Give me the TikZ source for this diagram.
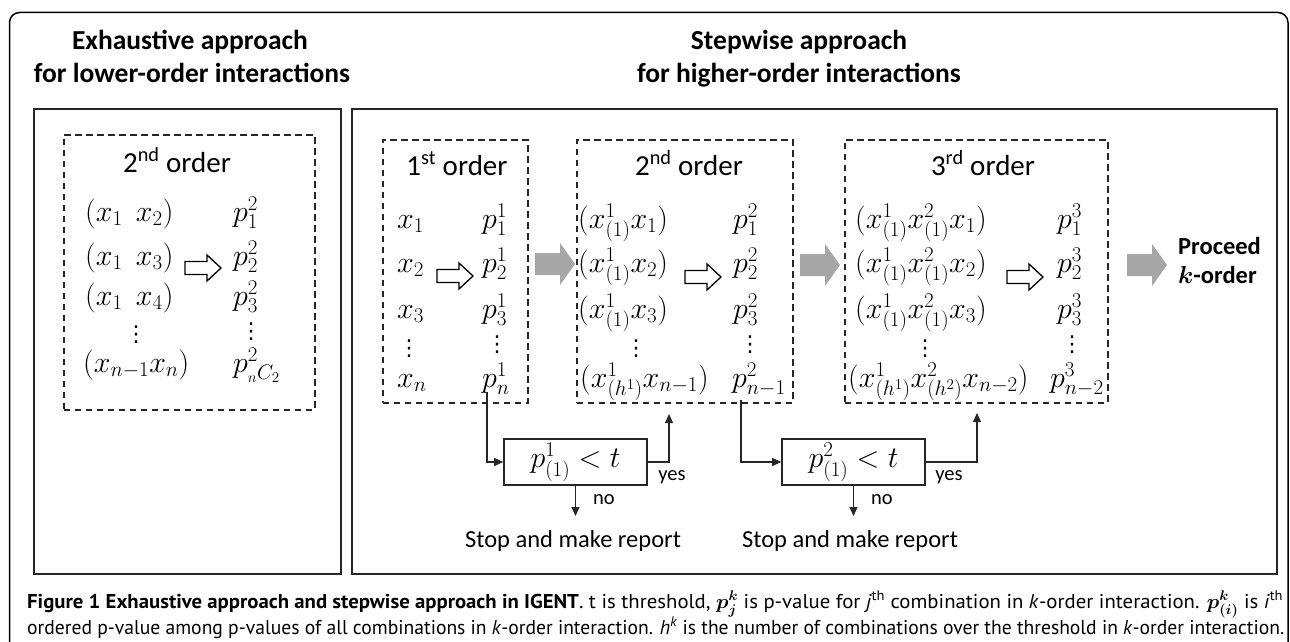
\RequirePackage{fix-cm}
\documentclass[tikz,border=0pt]{standalone}
\usepackage{amsmath}
\usepackage[no-math]{fontspec}
\setmainfont{Carlito}
\newfontfamily\capfont{PT Sans}
\newfontfamily\dejavu{DejaVu Sans}
\usetikzlibrary{arrows.meta}
\newcommand{\vdt}{{\dejavu ⋮}}
\tikzset{
  bigbox/.style={draw=black!85, line width=2pt, inner sep=0pt, anchor=north west},
  dbox/.style={draw=black!85, line width=1.6pt, dash pattern=on 6.5pt off 4.5pt, inner sep=0pt, anchor=north west},
  title/.style={font=\fontsize{27.5}{32}\selectfont\bfseries, inner sep=0pt, anchor=base},
  ordt/.style={font=\fontsize{29}{33}\selectfont, inner sep=0pt, anchor=base},
  mrow/.style={font=\fontsize{30}{34}\selectfont, inner sep=0pt, anchor=base west},
  mdots/.style={font=\fontsize{22}{26}\selectfont, inner sep=0pt, anchor=base},
  decbox/.style={draw=black!85, line width=1.6pt, minimum width=143pt, minimum height=46pt, inner sep=0pt, font=\fontsize{30}{34}\selectfont},
  small/.style={font=\fontsize{20.5}{24}\selectfont, inner sep=0pt},
  stoptxt/.style={font=\fontsize{24.5}{28}\selectfont, inner sep=0pt, anchor=base},
  conn/.style={draw=black!85, line width=1.1pt, -{Triangle[length=9pt,width=8pt]}},
  harrow/.pic={\draw[line width=1.3pt, fill=white, line join=miter] (-18,-6.5) -- (4,-6.5) -- (4,-13) -- (18,0) -- (4,13) -- (4,6.5) -- (-18,6.5) -- cycle;},
  garrow/.pic={\fill[black!35] (-20,-11) -- (5,-11) -- (5,-21) -- (20,0) -- (5,21) -- (5,11) -- (-20,11) -- cycle;},
  captxt/.style={font=\capfont\fontsize{20}{24}\selectfont, inner sep=0pt, anchor=base west}
}
\begin{document}
\begin{tikzpicture}[x=1pt,y=-1pt]
\useasboundingbox (0,0) rectangle (1290,642);
\clip (0,0) rectangle (1290,642);
% outer frame
\draw[line width=1.5pt, rounded corners=10pt] (9.5,660) -- (9.5,12.5) -- (1288,12.5) -- (1288,660);

% titles
\node[title] (t1a) at (190,50) {Exhaustive approach};
\node[title] (t1b) at (192,82) {for lower-order interactions};
\node[title] (t2a) at (799,50) {Stepwise approach};
\node[title] (t2b) at (799,82) {for higher-order interactions};

% solid boxes
\node[bigbox, minimum width=307pt, minimum height=465pt] (lbox) at (33,108) {};
\node[bigbox, minimum width=925pt, minimum height=465pt] (rbox) at (351,108) {};

% left dashed box
\node[dbox, minimum width=251pt, minimum height=275pt] (d0) at (63,134) {};
\node[ordt] (o0) at (177,172) {2\textsuperscript{nd} order};
\node[mrow] (l1) at (85,221) {$(x_1\;\, x_2)$};
\node[mrow] (l2) at (85,265) {$(x_1\;\, x_3)$};
\node[mrow] (l3) at (85,305) {$(x_1\;\, x_4)$};
\node[mdots] (ld) at (136,341) {\vdt};
\node[mrow] (l4) at (83,372) {$(x_{n-1}x_n)$};
\node[mrow] (lp1) at (233,221) {$p^2_1$};
\node[mrow] (lp2) at (233,265) {$p^2_2$};
\node[mrow] (lp3) at (233,305) {$p^2_3$};
\node[mdots] (lpd) at (251,338) {\vdt};
\node[mrow] (lp4) at (233,372) {$p^2_{{}_{n}C_{2}}$};
\pic at (203,268) {harrow};

% 1st order box
\node[dbox, minimum width=145pt, minimum height=263pt] (d1) at (382,139) {};
\node[ordt] (o1) at (457,175) {1\textsuperscript{st} order};
\node[mrow] (a1) at (397,228) {$x_1$};
\node[mrow] (a2) at (397,272) {$x_2$};
\node[mrow] (a3) at (397,318) {$x_3$};
\node[mdots] (ad) at (409,355) {\vdt};
\node[mrow] (a4) at (397,387) {$x_n$};
\node[mrow] (ap1) at (482,228) {$p^1_1$};
\node[mrow] (ap2) at (482,272) {$p^1_2$};
\node[mrow] (ap3) at (482,318) {$p^1_3$};
\node[mdots] (apd) at (497,351) {\vdt};
\node[mrow] (ap4) at (482,387) {$p^1_n$};
\pic at (455,276) {harrow};

% 2nd order box
\node[dbox, minimum width=216pt, minimum height=263pt] (d2) at (576,139) {};
\node[ordt] (o2) at (689,175) {2\textsuperscript{nd} order};
\node[mrow] (b1) at (578,228) {$(x^1_{(1)}x_1)$};
\node[mrow] (b2) at (578,272) {$(x^1_{(1)}x_2)$};
\node[mrow] (b3) at (578,318) {$(x^1_{(1)}x_3)$};
\node[mdots] (bd) at (636,355) {\vdt};
\node[mrow] (b4) at (580,387) {$(x^1_{(h^1)}x_{n-1})$};
\node[mrow] (bp1) at (733,228) {$p^2_1$};
\node[mrow] (bp2) at (733,272) {$p^2_2$};
\node[mrow] (bp3) at (733,318) {$p^2_3$};
\node[mdots] (bpd) at (750,351) {\vdt};
\node[mrow] (bp4) at (732,387) {$p^2_{n-1}$};
\pic at (703,277) {harrow};

% 3rd order box
\node[dbox, minimum width=263pt, minimum height=263pt] (d3) at (844,139) {};
\node[ordt] (o3) at (983,175) {3\textsuperscript{rd} order};
\node[mrow] (c1) at (855,228) {$(x^1_{(1)}x^2_{(1)}x_1)$};
\node[mrow] (c2) at (855,272) {$(x^1_{(1)}x^2_{(1)}x_2)$};
\node[mrow] (c3) at (855,318) {$(x^1_{(1)}x^2_{(1)}x_3)$};
\node[mdots] (cd) at (925,355) {\vdt};
\node[mrow] (c4) at (848,387) {$(x^1_{(h^1)}x^2_{(h^2)}x_{n-2})$};
\node[mrow] (cp1) at (1057,228) {$p^3_1$};
\node[mrow] (cp2) at (1057,272) {$p^3_2$};
\node[mrow] (cp3) at (1057,318) {$p^3_3$};
\node[mdots] (cpd) at (1072,351) {\vdt};
\node[mrow] (cp4) at (1050,387) {$p^3_{n-2}$};
\pic at (1025,277) {harrow};

% gray arrows
\pic at (555,264) {garrow};
\pic at (820,265) {garrow};
\pic at (1147,265) {garrow};
\node[font=\fontsize{24.5}{28}\selectfont\bfseries, inner sep=0pt, anchor=base west] (pr1) at (1178,254) {Proceed};
\node[font=\fontsize{24.5}{28}\selectfont\bfseries, inner sep=0pt, anchor=base west] (pr2) at (1178,283) {$\boldsymbol{k}$-order};

% decision boxes
\node[decbox] (dec1) at (575.5,462) {$p^1_{(1)} < t$};
\node[decbox] (dec2) at (853.5,462) {$p^2_{(1)} < t$};

\coordinate (s1) at (487,392);
\coordinate (s2) at (741,400);
\coordinate (y1) at (669,414);
\coordinate (y2) at (977,413);
\coordinate (n1) at (575.5,516);
\coordinate (n2) at (853.5,516);

\draw[conn] (s1) |- (dec1.west);
\draw[conn] (s2) |- (dec2.west);
\draw[conn] (dec1.east) -| (y1);
\draw[conn] (dec2.east) -| (y2);
\draw[conn] (dec1.south) -- (n1);
\draw[conn] (dec2.south) -- (n2);

\node[small] (yes1) at (672,477) {yes};
\node[small] (no1) at (604,500) {no};
\node[small] (yes2) at (949,477) {yes};
\node[small] (no2) at (882,500) {no};

\node[stoptxt] (stop1) at (573,547) {Stop and make report};
\node[stoptxt] (stop2) at (850,547) {Stop and make report};

% caption
\node[captxt] (cap1) at (27,608) {\resizebox{1256pt}{\height}{{\bfseries Figure 1 Exhaustive approach and stepwise approach in IGENT}. t is threshold, $\boldsymbol{p^{k}_{j}}$ is p-value for \textit{j}\textsuperscript{th} combination in \textit{k}-order interaction. $\boldsymbol{p^{k}_{(i)}}$ is \textit{i}\textsuperscript{th}}};
\node[captxt] (cap2) at (27,634) {\resizebox{1257pt}{\height}{ordered p-value among p-values of all combinations in \textit{k}-order interaction. \textit{h}\textsuperscript{\textit{k}} is the number of combinations over the threshold in \textit{k}-order interaction.}};
\end{tikzpicture}
\end{document}
